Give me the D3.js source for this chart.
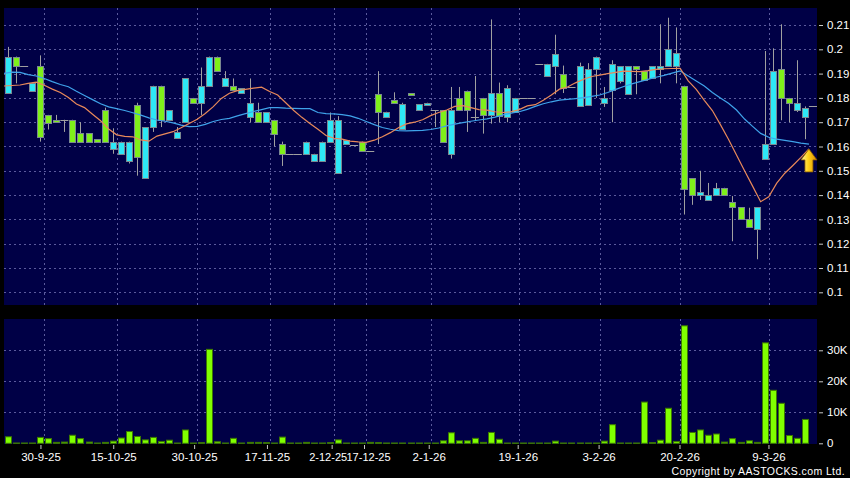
<!DOCTYPE html>
<html>
<head>
<meta charset="utf-8">
<script src="https://cdn.jsdelivr.net/npm/d3@7"></script>
<style>
  html, body { margin: 0; padding: 0; background: #000; }
  svg { display: block; }
  text { font-family: Arial, "Liberation Sans", sans-serif; }
</style>
</head>
<body>
<svg id="chart" width="850" height="478"></svg>
<script>
// ---------------- DATA ----------------
const opens = [0.182,0.197,0.193,0.183,0.193,0.173,0.171,0.171,0.171,0.1655,
  0.1655,0.163,0.175,0.159,0.157,0.154,0.177,0.147,0.168,0.185,
  0.171,0.1634,0.170,0.180,0.178,0.185,0.197,0.185,0.185,0.182,
  0.172,0.174,0.170,0.171,0.161,0.157,0.157,0.157,0.154,0.154,
  0.162,0.149,0.161,0.1605,0.162,0.158,0.1815,0.172,0.1793,0.167,
  0.182,0.175,0.177,0.175,0.175,0.157,0.180,0.183,0.172,0.180,
  0.173,0.182,0.172,0.1743,0.180,0.180,0.194,0.189,0.193,0.190,
  0.1845,0.1765,0.177,0.192,0.178,0.1834,0.187,0.1815,0.193,0.191,
  0.188,0.192,0.193,0.193,0.185,0.147,0.140,0.138,0.140,0.143,
  0.137,0.135,0.130,0.126,0.155,0.161,0.192,0.180,0.175,0.172,0.1765];
const highs = [0.201,0.197,0.193,0.186,0.1975,0.173,0.173,0.171,0.171,0.170,
  0.1655,0.163,0.176,0.1675,0.162,0.162,0.178,0.168,0.185,0.185,
  0.175,0.168,0.188,0.180,0.1925,0.197,0.197,0.191,0.188,0.184,
  0.188,0.178,0.174,0.171,0.162,0.157,0.157,0.162,0.157,0.162,
  0.174,0.1725,0.1625,0.1605,0.162,0.158,0.191,0.1743,0.1823,0.178,
  0.182,0.1774,0.178,0.175,0.175,0.1845,0.1845,0.183,0.189,0.180,
  0.2123,0.1863,0.1852,0.180,0.180,0.180,0.194,0.194,0.206,0.1933,
  0.1845,0.1945,0.1943,0.197,0.1845,0.1955,0.193,0.193,0.193,0.191,
  0.193,0.2103,0.213,0.209,0.185,0.147,0.150,0.145,0.145,0.143,
  0.1396,0.135,0.1348,0.135,0.1993,0.2004,0.2103,0.180,0.1955,0.1765,0.1765];
const lows = [0.182,0.186,0.193,0.183,0.162,0.167,0.170,0.166,0.162,0.162,
  0.162,0.162,0.162,0.157,0.157,0.153,0.148,0.147,0.166,0.168,
  0.171,0.1634,0.170,0.178,0.173,0.185,0.191,0.185,0.1834,0.182,
  0.170,0.170,0.170,0.160,0.152,0.157,0.157,0.157,0.154,0.154,
  0.162,0.149,0.161,0.1605,0.158,0.158,0.161,0.172,0.178,0.167,
  0.181,0.175,0.177,0.168,0.162,0.155,0.175,0.166,0.1705,0.1653,
  0.1694,0.170,0.170,0.1743,0.180,0.180,0.194,0.189,0.1815,0.182,
  0.1845,0.1765,0.177,0.180,0.1763,0.170,0.186,0.1815,0.1815,0.1875,
  0.188,0.186,0.193,0.186,0.132,0.136,0.138,0.138,0.140,0.140,
  0.121,0.130,0.127,0.1136,0.155,0.161,0.1708,0.170,0.1742,0.163,0.1765];
const closes = [0.197,0.193,0.193,0.186,0.164,0.1695,0.170,0.171,0.162,0.162,
  0.162,0.162,0.162,0.162,0.162,0.162,0.1555,0.168,0.185,0.171,
  0.175,0.166,0.188,0.178,0.185,0.197,0.191,0.188,0.1834,0.184,
  0.178,0.170,0.174,0.165,0.157,0.157,0.157,0.162,0.157,0.162,
  0.171,0.171,0.1625,0.1605,0.158,0.158,0.1743,0.1743,0.178,0.1774,
  0.181,0.1774,0.178,0.175,0.162,0.175,0.175,0.175,0.172,0.173,
  0.182,0.1724,0.184,0.180,0.180,0.180,0.194,0.194,0.198,0.184,
  0.1845,0.193,0.192,0.197,0.180,0.194,0.193,0.193,0.192,0.1875,
  0.193,0.193,0.200,0.1986,0.1424,0.140,0.1413,0.140,0.143,0.140,
  0.135,0.130,0.127,0.135,0.161,0.191,0.180,0.178,0.178,0.176,0.1765];
// volume in shares
const volumes = [2100,100,100,100,1900,1500,300,400,2600,1500,
  400,100,300,700,1700,3800,2200,1100,1900,600,
  1000,100,4300,100,200,30300,500,100,1600,100,
  300,300,200,100,2000,100,100,300,100,100,
  200,1100,100,100,100,300,200,100,100,100,
  100,100,100,100,800,3400,800,800,1600,300,
  3500,1300,100,100,100,100,100,100,700,100,
  100,100,100,100,700,6000,100,100,100,13300,
  200,1000,11300,600,37900,3500,4300,2600,3000,400,
  1500,300,800,300,32400,17100,12900,2500,1600,7700,0];
// moving averages, one value per day boundary
const maShort = [0.1849,0.1851,0.1853,0.1860,0.1865,0.1852,0.1836,0.1822,0.1802,0.1775,
  0.1760,0.1733,0.1706,0.1672,0.1648,0.1642,0.1640,0.1627,0.1622,0.1643,
  0.1652,0.1661,0.1677,0.1695,0.1712,0.1736,0.1764,0.1798,0.1819,0.1830,
  0.1835,0.1840,0.1844,0.1826,0.1812,0.1780,0.1748,0.1720,0.1695,0.1671,
  0.1645,0.1634,0.1630,0.1622,0.1619,0.1617,0.1626,0.1640,0.1657,0.1677,
  0.1693,0.1700,0.1710,0.1727,0.1740,0.1750,0.1765,0.1768,0.1760,0.1752,
  0.1750,0.1743,0.1740,0.1743,0.1752,0.1767,0.1772,0.1790,0.1812,0.1836,
  0.1845,0.1862,0.1877,0.1888,0.1894,0.1900,0.1905,0.1910,0.1909,0.1908,
  0.1912,0.1917,0.1920,0.1921,0.1922,0.1870,0.1835,0.1790,0.1748,0.1690,
  0.1630,0.1565,0.1500,0.1437,0.1373,0.1393,0.1449,0.1490,0.1522,0.1555,0.1590];
const maLong = [0.1901,0.1906,0.1905,0.1896,0.1890,0.1880,0.1867,0.1855,0.1846,0.1827,
  0.1810,0.1793,0.1776,0.1763,0.1756,0.1748,0.1739,0.1729,0.1718,0.1709,
  0.1704,0.1697,0.1688,0.1682,0.1683,0.1691,0.1703,0.1711,0.1716,0.1726,
  0.1735,0.1744,0.1752,0.1760,0.1760,0.1758,0.1757,0.1756,0.1756,0.1740,
  0.1735,0.1734,0.1731,0.1726,0.1716,0.1703,0.1690,0.1678,0.1671,0.1665,
  0.1664,0.1665,0.1666,0.1670,0.1676,0.1685,0.1692,0.1698,0.1704,0.1709,
  0.1714,0.1721,0.1730,0.1737,0.1743,0.1753,0.1765,0.1776,0.1784,0.1791,
  0.1794,0.1797,0.1801,0.1806,0.1812,0.1822,0.1835,0.1847,0.1858,0.1867,
  0.1876,0.1885,0.1893,0.1902,0.1911,0.1890,0.1870,0.1849,0.1822,0.1800,
  0.1778,0.1750,0.1713,0.1683,0.1654,0.1638,0.1630,0.1625,0.1620,0.1614,0.1610];
const priceTicks = [0.10,0.11,0.12,0.13,0.14,0.15,0.16,0.17,0.18,0.19,0.20,0.21];
const volumeTicks = [0,10000,20000,30000];
const dateLabels = ["30-9-25","15-10-25","30-10-25","17-11-25","2-12-25","17-12-25","2-1-26","19-1-26","3-2-26","20-2-26","9-3-26"];
const dateSlots = [5,14,24,33,41,45,53,64,74,84,95];

// ---------------- LAYOUT ----------------
const N = opens.length;
const L = 4, R = 817;
const mainTop = 8, mainBottom = 305;
const volTop = 319, volBottom = 444;
const C = {
  bg: "#000000", panel: "#000046", grid: "#5a5a9c",
  up: "#2ee8f6", down: "#7ff01a", border: "#7a8890", wick: "#a0a0a0",
  vol: "#80ff00", volBorder: "#3c7800",
  maShort: "#e8895a", maLong: "#3fa3ea", text: "#ffffff"
};

const svg = d3.select("#chart");
svg.append("rect").attr("width", 850).attr("height", 478).attr("fill", C.bg);

const x = d3.scaleBand().domain(d3.range(N)).range([L, R]).padding(0);
const step = x.step();
const cx = i => x(i) + step / 2;
const edge = k => L + k * step;
const tickX = d3.scaleLinear().domain([0, N]).range([0, R]);

const y = d3.scaleLinear().domain([0.10, 0.21]).range([292.3, 25]);
const yv = d3.scaleLinear().domain([0, 30000]).range([443.3, 350.3]);

// panels
svg.append("rect").attr("x", L).attr("y", mainTop).attr("width", R - L).attr("height", mainBottom - mainTop).attr("fill", C.panel);
svg.append("rect").attr("x", L).attr("y", volTop).attr("width", R - L).attr("height", volBottom - volTop).attr("fill", C.panel);

const defs = svg.append("defs");
defs.append("clipPath").attr("id", "clipMain").append("rect")
  .attr("x", L).attr("y", mainTop).attr("width", R - L).attr("height", mainBottom - mainTop);
defs.append("clipPath").attr("id", "clipVol").append("rect")
  .attr("x", L).attr("y", volTop).attr("width", R - L).attr("height", volBottom - volTop);
const grad = defs.append("linearGradient").attr("id", "arrowGrad").attr("x1", 0).attr("x2", 1).attr("y1", 0).attr("y2", 0);
grad.append("stop").attr("offset", "0%").attr("stop-color", "#fff3a0");
grad.append("stop").attr("offset", "45%").attr("stop-color", "#ffd21a");
grad.append("stop").attr("offset", "100%").attr("stop-color", "#d98a00");

// grid lines
const gMainGrid = svg.append("g").attr("stroke", C.grid).attr("stroke-dasharray", "2,3").attr("stroke-width", 1);
gMainGrid.selectAll("line.h").data(priceTicks).join("line").attr("class", "h")
  .attr("x1", L).attr("x2", R).attr("y1", d => Math.round(y(d)) + 0.5).attr("y2", d => Math.round(y(d)) + 0.5);
gMainGrid.selectAll("line.v").data(dateSlots).join("line").attr("class", "v")
  .attr("x1", d => Math.round(edge(d)) + 0.5).attr("x2", d => Math.round(edge(d)) + 0.5)
  .attr("y1", mainTop).attr("y2", mainBottom);
const gVolGrid = svg.append("g").attr("stroke", C.grid).attr("stroke-dasharray", "2,3").attr("stroke-width", 1);
gVolGrid.selectAll("line.h").data(volumeTicks.filter(v => v > 0)).join("line").attr("class", "h")
  .attr("x1", L).attr("x2", R).attr("y1", d => Math.round(yv(d)) + 0.5).attr("y2", d => Math.round(yv(d)) + 0.5);
gVolGrid.selectAll("line.v").data(dateSlots).join("line").attr("class", "v")
  .attr("x1", d => Math.round(edge(d)) + 0.5).attr("x2", d => Math.round(edge(d)) + 0.5)
  .attr("y1", volTop).attr("y2", volBottom);

// candles
const candles = d3.range(N).map(i => ({ i, o: opens[i], h: highs[i], l: lows[i], c: closes[i] }));
const gC = svg.append("g").attr("clip-path", "url(#clipMain)");
gC.selectAll("line.wick").data(candles.filter(d => d.h !== d.l)).join("line").attr("class", "wick")
  .attr("x1", d => Math.round(cx(d.i)) + 0.5).attr("x2", d => Math.round(cx(d.i)) + 0.5)
  .attr("y1", d => y(d.h)).attr("y2", d => y(d.l)).attr("stroke", C.wick).attr("stroke-width", 1);
// flat bars (open == close)
gC.selectAll("line.flat").data(candles.filter(d => d.o === d.c)).join("line").attr("class", "flat")
  .attr("x1", d => cx(d.i) - step / 2).attr("x2", d => cx(d.i) + step / 2)
  .attr("y1", d => Math.round(y(d.c)) + 0.5).attr("y2", d => Math.round(y(d.c)) + 0.5)
  .attr("stroke", C.wick).attr("stroke-width", 1);
gC.selectAll("rect.body").data(candles.filter(d => d.o !== d.c)).join("rect").attr("class", "body")
  .attr("x", d => Math.round(cx(d.i)) - 2.5)
  .attr("width", 6)
  .attr("y", d => Math.round(y(Math.max(d.o, d.c))) + 0.5)
  .attr("height", d => Math.max(1, Math.round(y(Math.min(d.o, d.c))) - Math.round(y(Math.max(d.o, d.c)))))
  .attr("fill", d => d.c > d.o ? C.up : C.down)
  .attr("stroke", C.border).attr("stroke-width", 1);

// moving averages
const maLine = d3.line().x((d, k) => edge(k)).y(d => y(d));
gC.append("path").attr("d", maLine(maLong)).attr("fill", "none").attr("stroke", C.maLong).attr("stroke-width", 1.2);
gC.append("path").attr("d", maLine(maShort)).attr("fill", "none").attr("stroke", C.maShort).attr("stroke-width", 1.2);

// arrow marker at last short MA point
const ax = edge(maShort.length - 1), ay = y(maShort[maShort.length - 1]);
svg.append("path")
  .attr("d", `M${ax},${ay} L${ax + 8},${ay + 11} L${ax + 4},${ay + 11} L${ax + 4},${ay + 23} L${ax - 4},${ay + 23} L${ax - 4},${ay + 11} L${ax - 8},${ay + 11} Z`)
  .attr("fill", "url(#arrowGrad)").attr("stroke", "#8a5a00").attr("stroke-width", 0.8);

// volume bars
const gV = svg.append("g").attr("clip-path", "url(#clipVol)");
gV.selectAll("rect.vol").data(candles.filter(d => volumes[d.i] > 0)).join("rect").attr("class", "vol")
  .attr("x", d => Math.round(cx(d.i)) - 2.5)
  .attr("width", 6)
  .attr("y", d => yv(volumes[d.i]))
  .attr("height", d => yv(0) - yv(volumes[d.i]))
  .attr("fill", C.vol).attr("stroke", C.volBorder).attr("stroke-width", 1);

// right axes
const yAxis = d3.axisRight(y).tickValues(priceTicks).tickSize(4).tickPadding(4)
  .tickFormat(d => String(+d.toFixed(2)));
const gy = svg.append("g").attr("transform", `translate(${R + 2},0)`).call(yAxis);
const vAxis = d3.axisRight(yv).tickValues(volumeTicks).tickSize(4).tickPadding(4)
  .tickFormat(d => d === 0 ? "0" : (d / 1000) + "K");
const gvAxis = svg.append("g").attr("transform", `translate(${R + 2},0)`).call(vAxis);
[gy, gvAxis].forEach(g => {
  g.select(".domain").remove();
  g.selectAll(".tick line").attr("stroke", "#c8c8c8");
  g.selectAll(".tick text").attr("fill", C.text).attr("font-size", 11.5).attr("font-family", "Arial, 'Liberation Sans', sans-serif");
});

// bottom date axis
const xAxis = d3.axisBottom(tickX).tickValues(dateSlots).tickSize(4).tickPadding(4)
  .tickFormat((d, i) => dateLabels[i]);
const gx = svg.append("g").attr("transform", `translate(0,${volBottom + 1})`).call(xAxis);
gx.select(".domain").remove();
gx.selectAll(".tick line").attr("stroke", "#c8c8c8");
gx.selectAll(".tick text").attr("fill", C.text).attr("font-size", 11.5).attr("font-family", "Arial, 'Liberation Sans', sans-serif");
// the two crowded December labels: nudge apart so they do not collide
gx.selectAll(".tick text").filter((d, i) => i === 4).attr("dx", -4).attr("font-size", 11);
gx.selectAll(".tick text").filter((d, i) => i === 5).attr("dx", 4).attr("font-size", 11);

// copyright
svg.append("text").attr("x", 845).attr("y", 475).attr("text-anchor", "end")
  .attr("fill", C.text).attr("font-size", 10.5).attr("letter-spacing", 0.4)
  .text("Copyright by AASTOCKS.com Ltd.");
</script>
</body>
</html>
